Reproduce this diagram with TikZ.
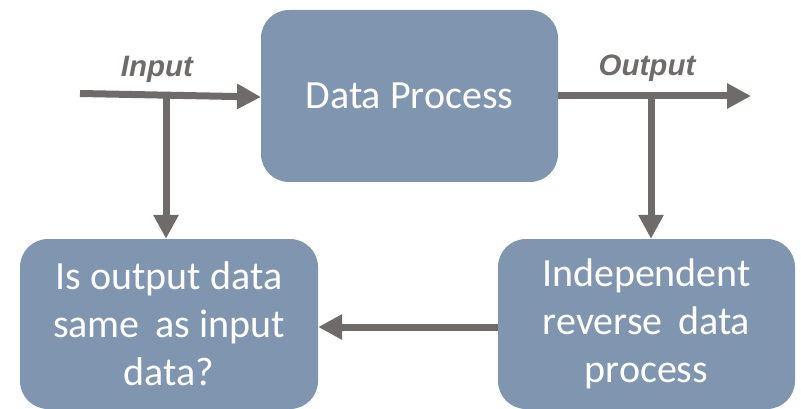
\documentclass[tikz,border=0pt]{standalone}
\usepackage{fontspec}
\setmainfont{Carlito}
\newfontfamily\arialfont{Liberation Sans}
\usetikzlibrary{arrows.meta}
\definecolor{boxfill}{RGB}{128,150,176}
\definecolor{arrgray}{RGB}{111,107,107}
\begin{document}
\begin{tikzpicture}[x=1pt,y=-1pt,
  box/.style={fill=boxfill, draw=none, rounded corners=28pt, text=white, align=center,
    font=\fontsize{40}{48}\selectfont, inner sep=0pt},
  arr/.style={draw=arrgray, line width=7pt, -{Triangle[length=24pt,width=24pt]}},
  lbl/.style={text=arrgray, font=\arialfont\bfseries\itshape\fontsize{29.5}{33}\selectfont, inner sep=0pt}]
\useasboundingbox (0,0) rectangle (801,409);
\node[box, minimum width=297pt, minimum height=172pt] (dp) at (409.5,96) {Data Process};
\node[box, minimum width=298pt, minimum height=170pt] (left) at (169,324) {Is output data\\same\, as input\\data?};
\node[box, minimum width=297pt, minimum height=170pt] (right) at (646.5,324) {Independent\\reverse\, data\\process};
\node[lbl, anchor=base] (inl) at (157,77) {Input};
\node[lbl, anchor=base] (outl) at (647,76) {Output};
\coordinate (inS) at (80,93.5);
\coordinate (inE) at (261,97);
\coordinate (bIn) at (166,95);
\coordinate (outE) at (751,96);
\coordinate (bOut) at (651,96);
\coordinate (hy) at (0,327);
\draw[arr] (inS) -- (inE);
\draw[arr] (bIn) -- (bIn |- left.north);
\draw[arr] (dp.east) -- (outE);
\draw[arr] (bOut) -- (bOut |- right.north);
\draw[arr] (right.west |- hy) -- (left.east |- hy);
\end{tikzpicture}
\end{document}
